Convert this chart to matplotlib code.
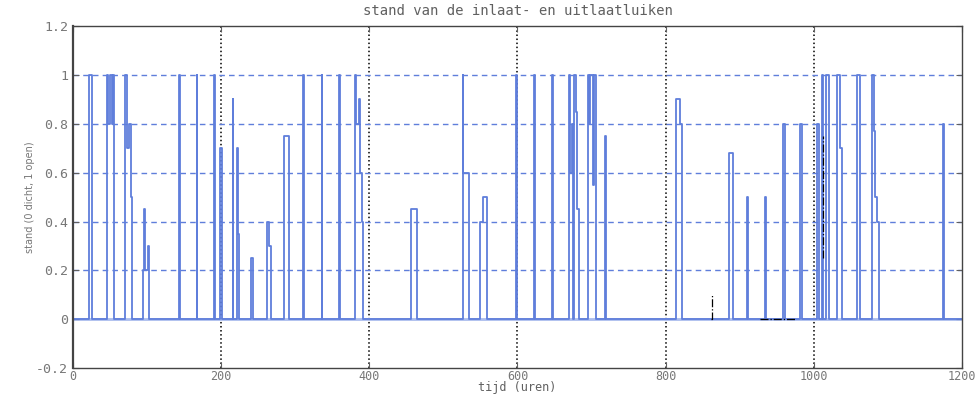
import numpy as np
import matplotlib
matplotlib.use("Agg")
import matplotlib.pyplot as plt

# stand van de luiken: (tijd in uren, stand) -- trapfunctie, waarde geldt tot volgende tijdstip
tijd = [0, 22, 25, 45.5, 47, 50, 53, 54, 55,
        70, 73, 75, 78, 79,
        95, 96, 97, 101.5, 102.5, 103,
        143.5, 144.5, 167, 168, 190.5, 191.5, 198.5, 201.5,
        215.5, 216.5, 222, 223, 224.5, 240, 242.5,
        261.5, 265, 267, 285.5, 291,
        310.5, 311.5, 335.5, 336.5, 359.5, 360.5,
        381, 382, 385.5, 387.5, 389.5, 391,
        456, 464.5, 526, 527, 535,
        549.5, 553.5, 558.5, 597.5, 599.5,
        622.5, 623.5, 647, 648,
        670, 671.5, 673, 674.5, 676, 679, 681, 683,
        695.5, 697, 698.5, 702, 703.5, 705.5,
        718.5, 719.5, 813.5, 819, 821.5,
        886, 891, 910.5, 911.5, 934.5, 935.5,
        958, 961, 981.5, 983.5, 1004, 1007,
        1011, 1012, 1016, 1021,
        1032, 1035, 1038, 1058.5, 1062,
        1078, 1081, 1083, 1085, 1087.5,
        1174, 1176, 1200]
stand = [0, 1, 0, 1, 0.8, 1, 0.8, 1, 0,
         1, 0.7, 0.8, 0.5, 0,
         0.2, 0.45, 0.2, 0.3, 0.2, 0,
         1, 0, 1, 0, 1, 0, 0.7, 0,
         0.9, 0, 0.7, 0.35, 0, 0.25, 0,
         0.4, 0.3, 0, 0.75, 0,
         1, 0, 1, 0, 1, 0,
         1, 0.8, 0.9, 0.6, 0.4, 0,
         0.45, 0, 1, 0.6, 0,
         0.4, 0.5, 0, 1, 0,
         1, 0, 1, 0,
         1, 0.6, 0.8, 0, 1, 0.85, 0.45, 0,
         1, 0.8, 1, 0.55, 1, 0,
         0.75, 0, 0.9, 0.8, 0,
         0.68, 0, 0.5, 0, 0.5, 0,
         0.8, 0, 0.8, 0, 0.8, 0,
         1, 0, 1, 0,
         1, 0.7, 0, 1, 0,
         1, 0.77, 0.5, 0.4, 0,
         0.8, 0, 0]

# tweede signaal (zwart), alleen zichtbaar waar het niet onder de blauwe lijn valt
tijd2 = [861, 862, 862, 863, np.nan, 927, 975, np.nan, 1013, 1013]
stand2 = [0, 0, 0.1, 0.1, np.nan, 0, 0, np.nan, 0.25, 0.75]

blauw = '#5f7edb'
grijs = '#606060'

fig = plt.figure(figsize=(9.8, 3.95), dpi=100)
ax = fig.add_axes([0.0745, 0.068, 0.907, 0.866])

ax.plot(tijd, stand, drawstyle='steps-post', color=blauw, lw=1.3)
ax.axhline(0, color='#aabcee', lw=2.0, zorder=1.5)
ax.plot(tijd2, stand2, color='black', lw=0.9, ls='-.')

ax.set_xlim(0, 1200)
ax.set_ylim(-0.2, 1.2)
ax.set_xticks(np.arange(0, 1201, 200))
ax.set_yticks([-0.2, 0, 0.2, 0.4, 0.6, 0.8, 1, 1.2])
ax.set_yticklabels(['-0.2', '0', '0.2', '0.4', '0.6', '0.8', '1', '1.2'])

# rasterlijnen: verticaal zwart gestippeld, horizontaal blauw gestreept
for x in range(200, 1001, 200):
    ax.axvline(x, color='black', ls=':', lw=1.1, zorder=0.5)
for y in [0.2, 0.4, 0.6, 0.8, 1.0]:
    ax.axhline(y, color=blauw, ls=(0, (4, 3)), lw=1.0, zorder=0.5)

ax.tick_params(direction='in', top=True, right=True, length=4,
               labelsize=9.5, labelcolor='#777777', color=grijs)
ax.tick_params(axis='x', pad=1, labelsize=8.5)
for lab in ax.get_xticklabels() + ax.get_yticklabels():
    lab.set_family('DejaVu Sans Mono')
for s in ax.spines.values():
    s.set_color('#444444')
    s.set_linewidth(1.0)
ax.spines['left'].set_linewidth(1.6)

ax.set_title('stand van de inlaat- en uitlaatluiken', family='DejaVu Sans Mono',
             fontsize=10, color=grijs, pad=8)
ax.set_xlabel('tijd (uren)', family='DejaVu Sans Mono', fontsize=8.5,
              color=grijs, va='bottom')
ax.xaxis.set_label_coords(0.5, -0.075)
ax.set_ylabel('stand (0 dicht, 1 open)', fontsize=7, color='#777777', va='center')
ax.yaxis.set_label_coords(-0.048, 0.5)

fig.savefig('out.png', dpi=100)
